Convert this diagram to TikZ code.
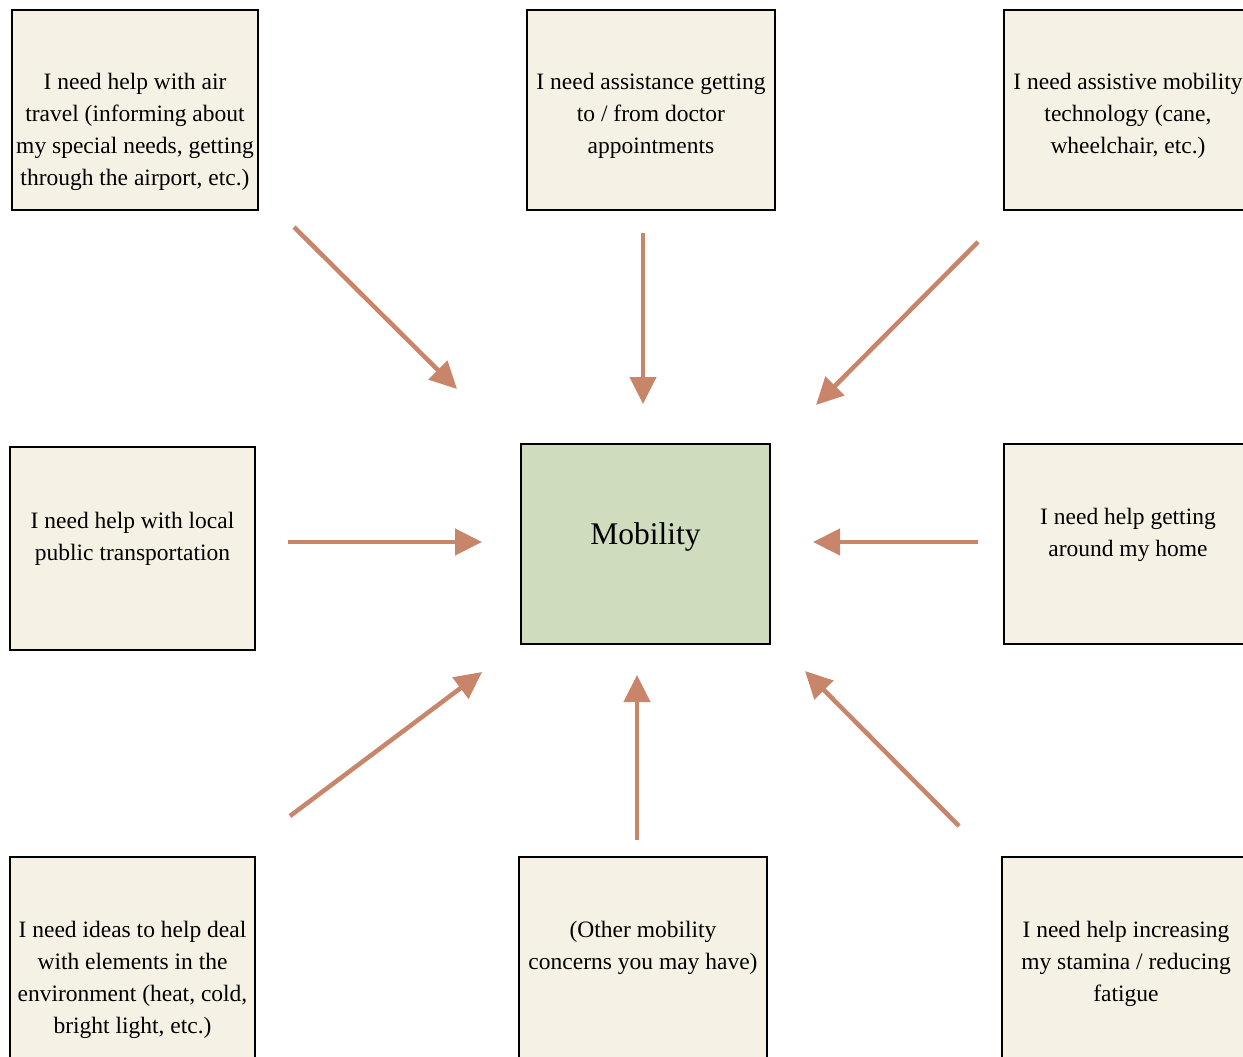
\documentclass[tikz,border=0pt]{standalone}
\usepackage{fontspec}
\setmainfont{Liberation Serif}
\usetikzlibrary{positioning,arrows.meta}
\definecolor{cream}{HTML}{F5F2E5}
\definecolor{sage}{HTML}{CFDDBE}
\definecolor{clay}{HTML}{C8856A}
\tikzset{
  need/.style={draw, line width=2.2pt, fill=cream, minimum width=246pt, minimum height=200pt, inner sep=0},
  hub/.style={need, fill=sage},
  say/.style={align=center, inner sep=0, font=\fontsize{23.5}{32}\selectfont},
  flow/.style={draw=clay, line width=4.5pt, -{Triangle[length=27pt,width=26pt]}}
}
\begin{document}
\begin{tikzpicture}[x=1pt, y=-1pt]
  \useasboundingbox (0,0) rectangle (1243,1057);
  \clip (0,0) rectangle (1243,1057);

  % boxes
  \node[need] (air) at (135,110) {};
  \node[need, minimum width=248pt] (doc) at (651,110) {};
  \node[need, minimum width=248pt] (tech) at (1128,110) {};
  \node[need, minimum width=245pt, minimum height=203pt] (local) at (132.5,548.5) {};
  \node[hub, minimum width=249pt] (mob) at (645.5,544) {};
  \node[need, minimum width=248pt] (home) at (1128,544) {};
  \node[need, minimum width=245pt, minimum height=206pt] (env) at (132.5,960) {};
  \node[need, minimum width=248pt, minimum height=206pt] (other) at (643,960) {};
  \node[need, minimum width=248pt, minimum height=206pt] (stam) at (1126,960) {};

  % texts
  \node[say, below=64pt of air.north] (airtxt) {I need help with air\\travel (informing about\\my special needs, getting\\through the airport, etc.)};
  \node[say, below=64pt of doc.north] (doctxt) {I need assistance getting\\to / from doctor\\appointments};
  \node[say, below=64pt of tech.north] (techtxt) {I need assistive mobility\\technology (cane,\\wheelchair, etc.)};
  \node[say, below=66pt of local.north] (localtxt) {I need help with local\\public transportation};
  \node[say, font=\fontsize{31.5}{36}\selectfont, below=80pt of mob.north] (mobtxt) {Mobility};
  \node[say, below=65pt of home.north] (hometxt) {I need help getting\\around my home};
  \node[say, below=65pt of env.north] (envtxt) {I need ideas to help deal\\with elements in the\\environment (heat, cold,\\bright light, etc.)};
  \node[say, below=65pt of other.north] (othertxt) {(Other mobility\\concerns you may have)};
  \node[say, below=65pt of stam.north] (stamtxt) {I need help increasing\\my stamina / reducing\\fatigue};

  % arrow ends
  \coordinate (a1) at (294,227);  \coordinate (b1) at (457,389);
  \coordinate (a2) at (643,233);  \coordinate (b2) at (643,404);
  \coordinate (a3) at (978,242);  \coordinate (b3) at (816,405);
  \coordinate (a4) at (288,542);  \coordinate (b4) at (482,542);
  \coordinate (a5) at (978,542);  \coordinate (b5) at (813,542);
  \coordinate (a6) at (290,816);  \coordinate (b6) at (482,672);
  \coordinate (a7) at (637,840);  \coordinate (b7) at (637,675);
  \coordinate (a8) at (959,826);  \coordinate (b8) at (805,671);

  \foreach \i in {1,...,8}
  {
    \draw[flow] (a\i) -- (b\i);
  }
\end{tikzpicture}
\end{document}
